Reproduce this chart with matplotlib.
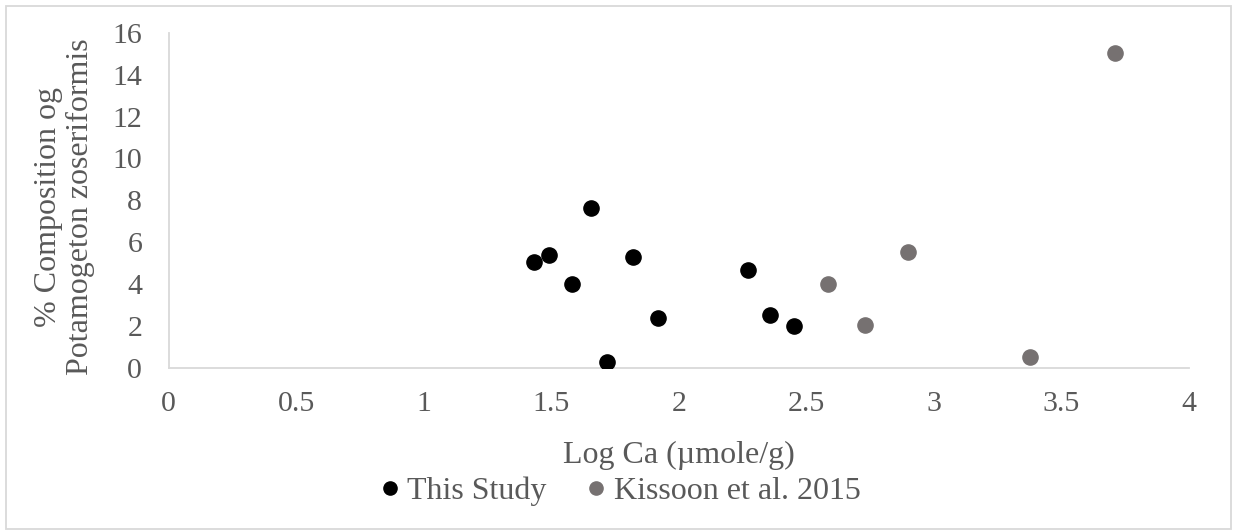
import matplotlib.pyplot as plt
from matplotlib.patches import Rectangle
from matplotlib.lines import Line2D

plt.rcParams['font.family'] = ['Liberation Serif', 'DejaVu Serif']

# This Study
study_x = [1.432, 1.493, 1.583, 1.655, 1.720, 1.820, 1.918, 2.273, 2.359, 2.453]
study_y = [5.05, 5.38, 4.01, 7.64, 0.26, 5.28, 2.38, 4.66, 2.52, 2.0]
# Kissoon et al. 2015
kiss_x = [2.586, 2.73, 2.898, 3.377, 3.711]
kiss_y = [4.01, 2.02, 5.52, 0.52, 15.04]

xticks = [0, 0.5, 1, 1.5, 2, 2.5, 3, 3.5, 4]
xtick_labels = ['0', '0.5', '1', '1.5', '2', '2.5', '3', '3.5', '4']
yticks = [0, 2, 4, 6, 8, 10, 12, 14, 16]

text_col = '#595959'
axis_col = '#d9d9d9'
grey = '#767171'

fig = plt.figure(figsize=(12.33, 5.31), dpi=100)
ax = fig.add_axes([0.1367, 0.3079, 0.8276, 0.63])

ax.scatter(study_x, study_y, s=120, color='black', zorder=3, label='This Study')
ax.scatter(kiss_x, kiss_y, s=120, color=grey, zorder=3, label='Kissoon et al. 2015')

ax.set_xlim(0, 4)
ax.set_ylim(0, 16)
ax.set_xticks(xticks)
ax.set_xticklabels(xtick_labels)
ax.set_yticks(yticks)
ax.tick_params(length=0, labelsize=21.5, colors=text_col)
ax.tick_params(axis='x', pad=17)
ax.tick_params(axis='y', pad=19)

for s in ['top', 'right']:
    ax.spines[s].set_visible(False)
for s in ['left', 'bottom']:
    ax.spines[s].set_color(axis_col)
    ax.spines[s].set_linewidth(1.3)

ax.set_xlabel('Log Ca (µmole/g)', fontsize=23, color=text_col)
ax.xaxis.set_label_coords(0.5, -0.218)
ax.set_ylabel('% Composition og\nPotamogeton zoseriformis', fontsize=23,
              color=text_col, linespacing=1.13)
ax.yaxis.set_label_coords(-0.072, 0.48)

handles = [Line2D([], [], marker='o', linestyle='', color='black', markersize=9.5),
           Line2D([], [], marker='o', linestyle='', color=grey, markersize=9.5)]
fig.legend(handles, ['This Study', 'Kissoon et al. 2015'], loc='center',
           bbox_to_anchor=(0.5, 0.075), ncol=2, frameon=False, fontsize=23,
           labelcolor=text_col, handletextpad=0.0, columnspacing=1.0,
           handlelength=1.1)

# outer chart border
fig.patches.append(Rectangle((0.0049, 0.003), 0.9935, 0.9857, transform=fig.transFigure,
                             fill=False, edgecolor=axis_col, linewidth=1.3))

fig.savefig('out.png', dpi=100)
